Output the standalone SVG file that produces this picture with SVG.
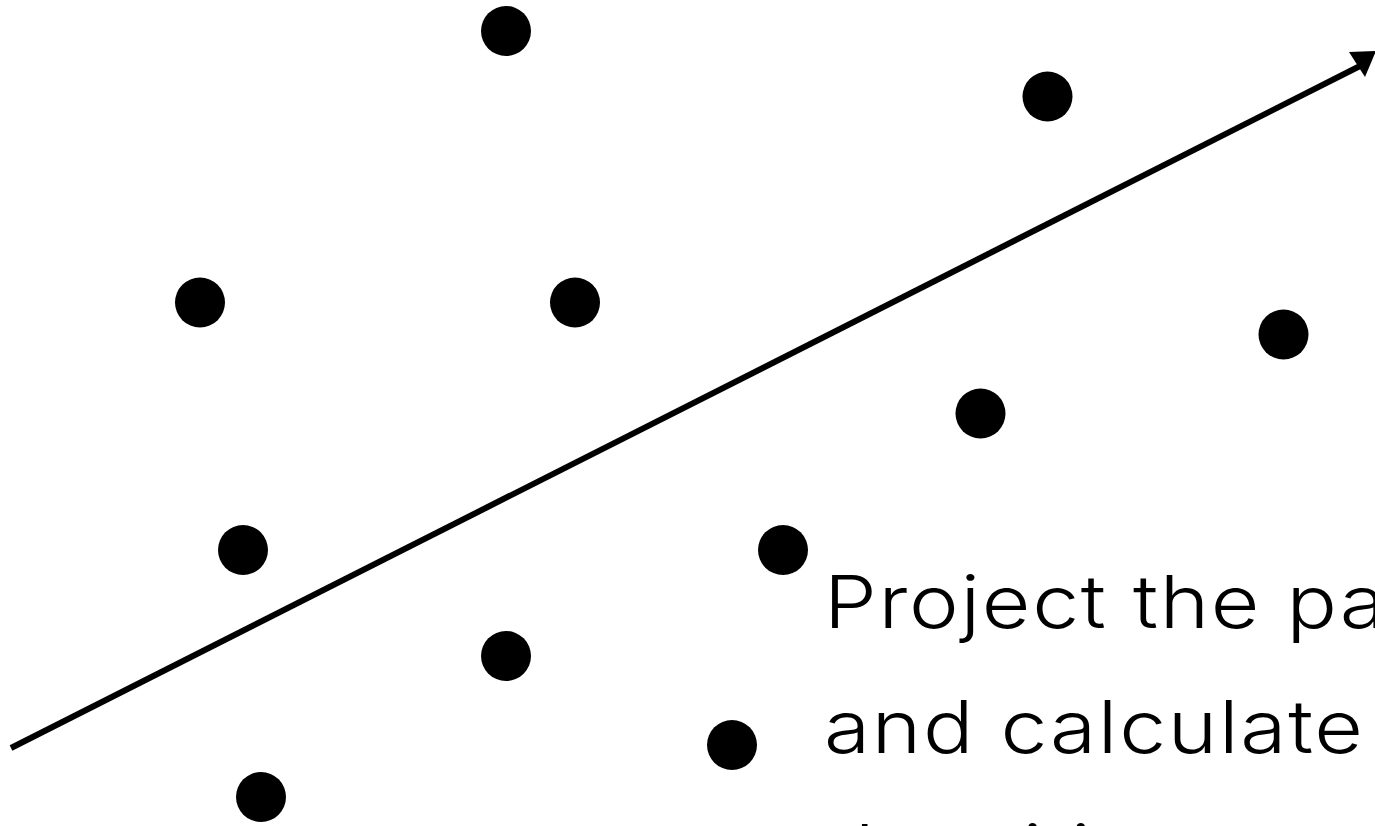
<svg xmlns="http://www.w3.org/2000/svg" width="1375" height="826" viewBox="0 0 1375 826">
<style>
.dot{fill:#000}
.axis{stroke:#000;stroke-width:6;fill:none}
.head{fill:#000}
.lbl{font-family:Inter,"Noto Sans",sans-serif;font-size:73px;font-weight:350;letter-spacing:1.5px;fill:#000}
</style>
<rect width="1375" height="826" fill="#fff"/>
<g id="connectors">
<line class="axis" x1="11" y1="748" x2="1360" y2="66"/>
<polygon class="head" points="1349,52 1376,51 1365,77"/>
</g>
<g id="p1"><circle class="dot" cx="506" cy="31" r="25"/></g>
<g id="p2"><circle class="dot" cx="1047.5" cy="96.5" r="25"/></g>
<g id="p3"><circle class="dot" cx="200" cy="302.5" r="25"/></g>
<g id="p4"><circle class="dot" cx="575" cy="302.5" r="25"/></g>
<g id="p5"><circle class="dot" cx="1283.5" cy="334.5" r="25"/></g>
<g id="p6"><circle class="dot" cx="980.5" cy="413.5" r="25"/></g>
<g id="p7"><circle class="dot" cx="243" cy="550" r="25"/></g>
<g id="p8"><circle class="dot" cx="783" cy="550" r="25"/></g>
<g id="p9"><circle class="dot" cx="506" cy="656" r="25"/></g>
<g id="p10"><circle class="dot" cx="732" cy="745" r="25"/></g>
<g id="p11"><circle class="dot" cx="261" cy="797" r="25"/></g>
<g id="label" transform="translate(824,0) scale(1.15,1)">
<text class="lbl" x="0" y="628">Project the pa</text>
<text class="lbl" x="0" y="753">and calculate</text>
<text class="lbl" x="0" y="877">densities</text>
</g>
</svg>
